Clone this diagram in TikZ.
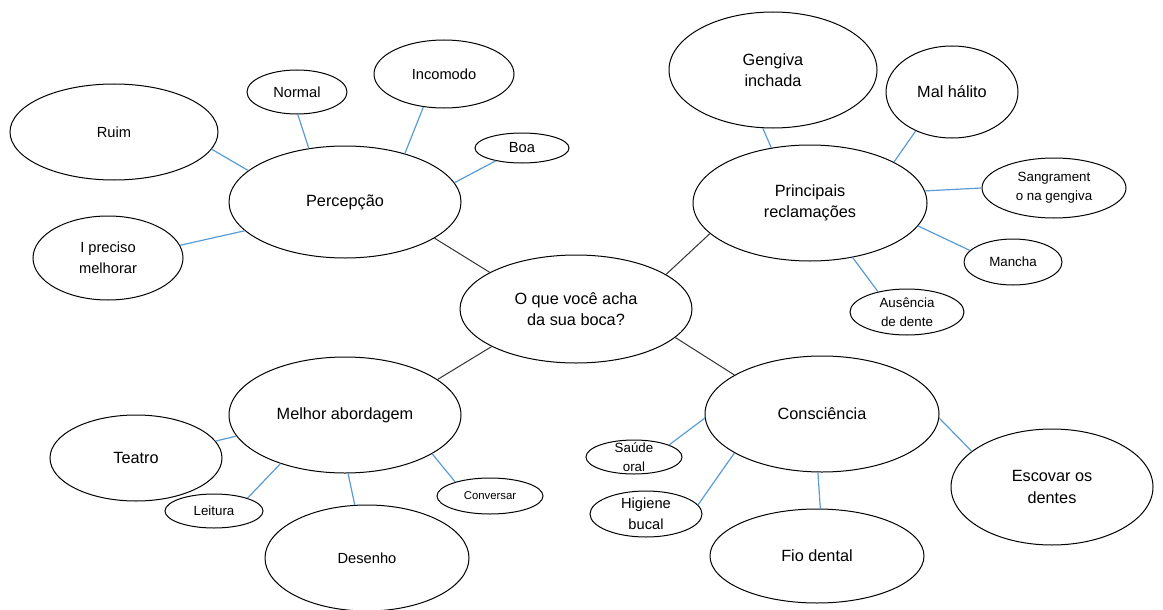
\documentclass[tikz,border=0pt]{standalone}
\usepackage{fontspec}
\setmainfont{Liberation Sans}
\usepackage{xcolor}
\usepackage{tikz}
\usetikzlibrary{shapes.geometric}
\definecolor{kblue}{HTML}{5B9BD5}
\definecolor{kdark}{HTML}{333333}

\begin{document}
\begin{tikzpicture}[x=0.75pt, y=-0.75pt,
  bubble/.style={ellipse, draw=black, line width=0.75pt, inner sep=0pt, align=center},
  topicfont/.style={font=\fontsize{12.2}{16}\selectfont},
  leaffont/.style={font=\fontsize{11}{15.5}\selectfont},
  smallfont/.style={font=\fontsize{10}{14.5}\selectfont},
  tolink/.style={draw=kdark, line width=0.75pt},
  leaflink/.style={draw=kblue, line width=0.9pt}]
\useasboundingbox (0,0) rectangle (1163,610);

% centre and the four topics
\node[bubble, topicfont, minimum width=174pt, minimum height=81pt] (boca) at (576,309) {O que você acha\\da sua boca?};
\node[bubble, topicfont, minimum width=174pt, minimum height=84pt] (percepcao) at (345,202) {Percepção};
\node[bubble, topicfont, minimum width=175.5pt, minimum height=87pt] (reclamacoes) at (810,203) {Principais\\reclamações};
\node[bubble, topicfont, minimum width=174pt, minimum height=87pt] (abordagem) at (345,415) {Melhor abordagem};
\node[bubble, topicfont, minimum width=175.5pt, minimum height=87pt] (consciencia) at (822,414) {Consciência};

% Percepção
\node[bubble, leaffont, minimum width=156pt, minimum height=72pt] (ruim) at (114,132) {Ruim};
\node[bubble, leaffont, minimum width=75pt, minimum height=33pt] (normal) at (297,92) {Normal};
\node[bubble, leaffont, minimum width=105pt, minimum height=51pt] (incomodo) at (444,74) {Incomodo};
\node[bubble, leaffont, minimum width=70.5pt, minimum height=22.5pt] (boa) at (522,148) {Boa};
\node[bubble, leaffont, minimum width=112.5pt, minimum height=63pt] (melhorar) at (108,258) {I preciso\\melhorar};

% Principais reclamações
\node[bubble, topicfont, minimum width=156pt, minimum height=87pt] (gengiva) at (773,70) {Gengiva\\inchada};
\node[bubble, topicfont, minimum width=99pt, minimum height=69pt] (halito) at (952,92) {Mal hálito};
\node[bubble, smallfont, minimum width=108pt, minimum height=45pt] (sangramento) at (1054,188) {Sangrament\\o na gengiva};
\node[bubble, smallfont, minimum width=73.5pt, minimum height=34.5pt] (mancha) at (1013,262) {Mancha};
\node[bubble, smallfont, inner ysep=-1pt, minimum width=85.5pt, minimum height=34.5pt] (ausencia) at (907,312) {Ausência\\de dente};

% Melhor abordagem
\node[bubble, topicfont, minimum width=129pt, minimum height=64.5pt] (teatro) at (136,458) {Teatro};
\node[bubble, smallfont, minimum width=73.5pt, minimum height=25.5pt] (leitura) at (214,511) {Leitura};
\node[bubble, leaffont, minimum width=153pt, minimum height=79.5pt] (desenho) at (367,558) {Desenho};
\node[bubble, font=\fontsize{8.5}{10}\selectfont, minimum width=79.5pt, minimum height=27pt] (conversar) at (490,496) {Conversar};

% Consciência
\node[bubble, smallfont, inner ysep=-4pt, minimum width=72pt, minimum height=25.5pt] (saude) at (634,457) {Saúde\\oral};
\node[bubble, leaffont, inner ysep=-2pt, minimum width=84pt, minimum height=34.5pt] (higiene) at (646,514) {Higiene\\bucal};
\node[bubble, topicfont, minimum width=160.5pt, minimum height=70.5pt] (fio) at (817,556) {Fio dental};
\node[bubble, topicfont, minimum width=151.5pt, minimum height=87pt] (escovar) at (1052,487) {Escovar os\\dentes};

\draw[tolink] (boca.157) -- (percepcao.338);
\draw[tolink] (boca.21) -- (reclamacoes.197);
\draw[tolink] (boca.204) -- (abordagem.21);
\draw[tolink] (boca.344) -- (consciencia.156);

\foreach \leaf/\a/\b in {ruim/162/350, normal/124/272, incomodo/39/238, boa/10/206, melhorar/196/10}
  \draw[leaflink] (percepcao.\a) -- (\leaf.\b);
\foreach \leaf/\a/\b in {gengiva/125/260, halito/26/227, sangramento/6/180, mancha/348/165, ausencia/308/145}
  \draw[leaflink] (reclamacoes.\a) -- (\leaf.\b);
\foreach \leaf/\a/\b in {teatro/191/12, leitura/217/21, desenho/273/103, conversar/336/158}
  \draw[leaflink] (abordagem.\a) -- (\leaf.\b);
\foreach \leaf/\a/\b in {saude/182/19, higiene/204/10, fio/266/86, escovar/358/156}
  \draw[leaflink] (consciencia.\a) -- (\leaf.\b);
\end{tikzpicture}
\end{document}
